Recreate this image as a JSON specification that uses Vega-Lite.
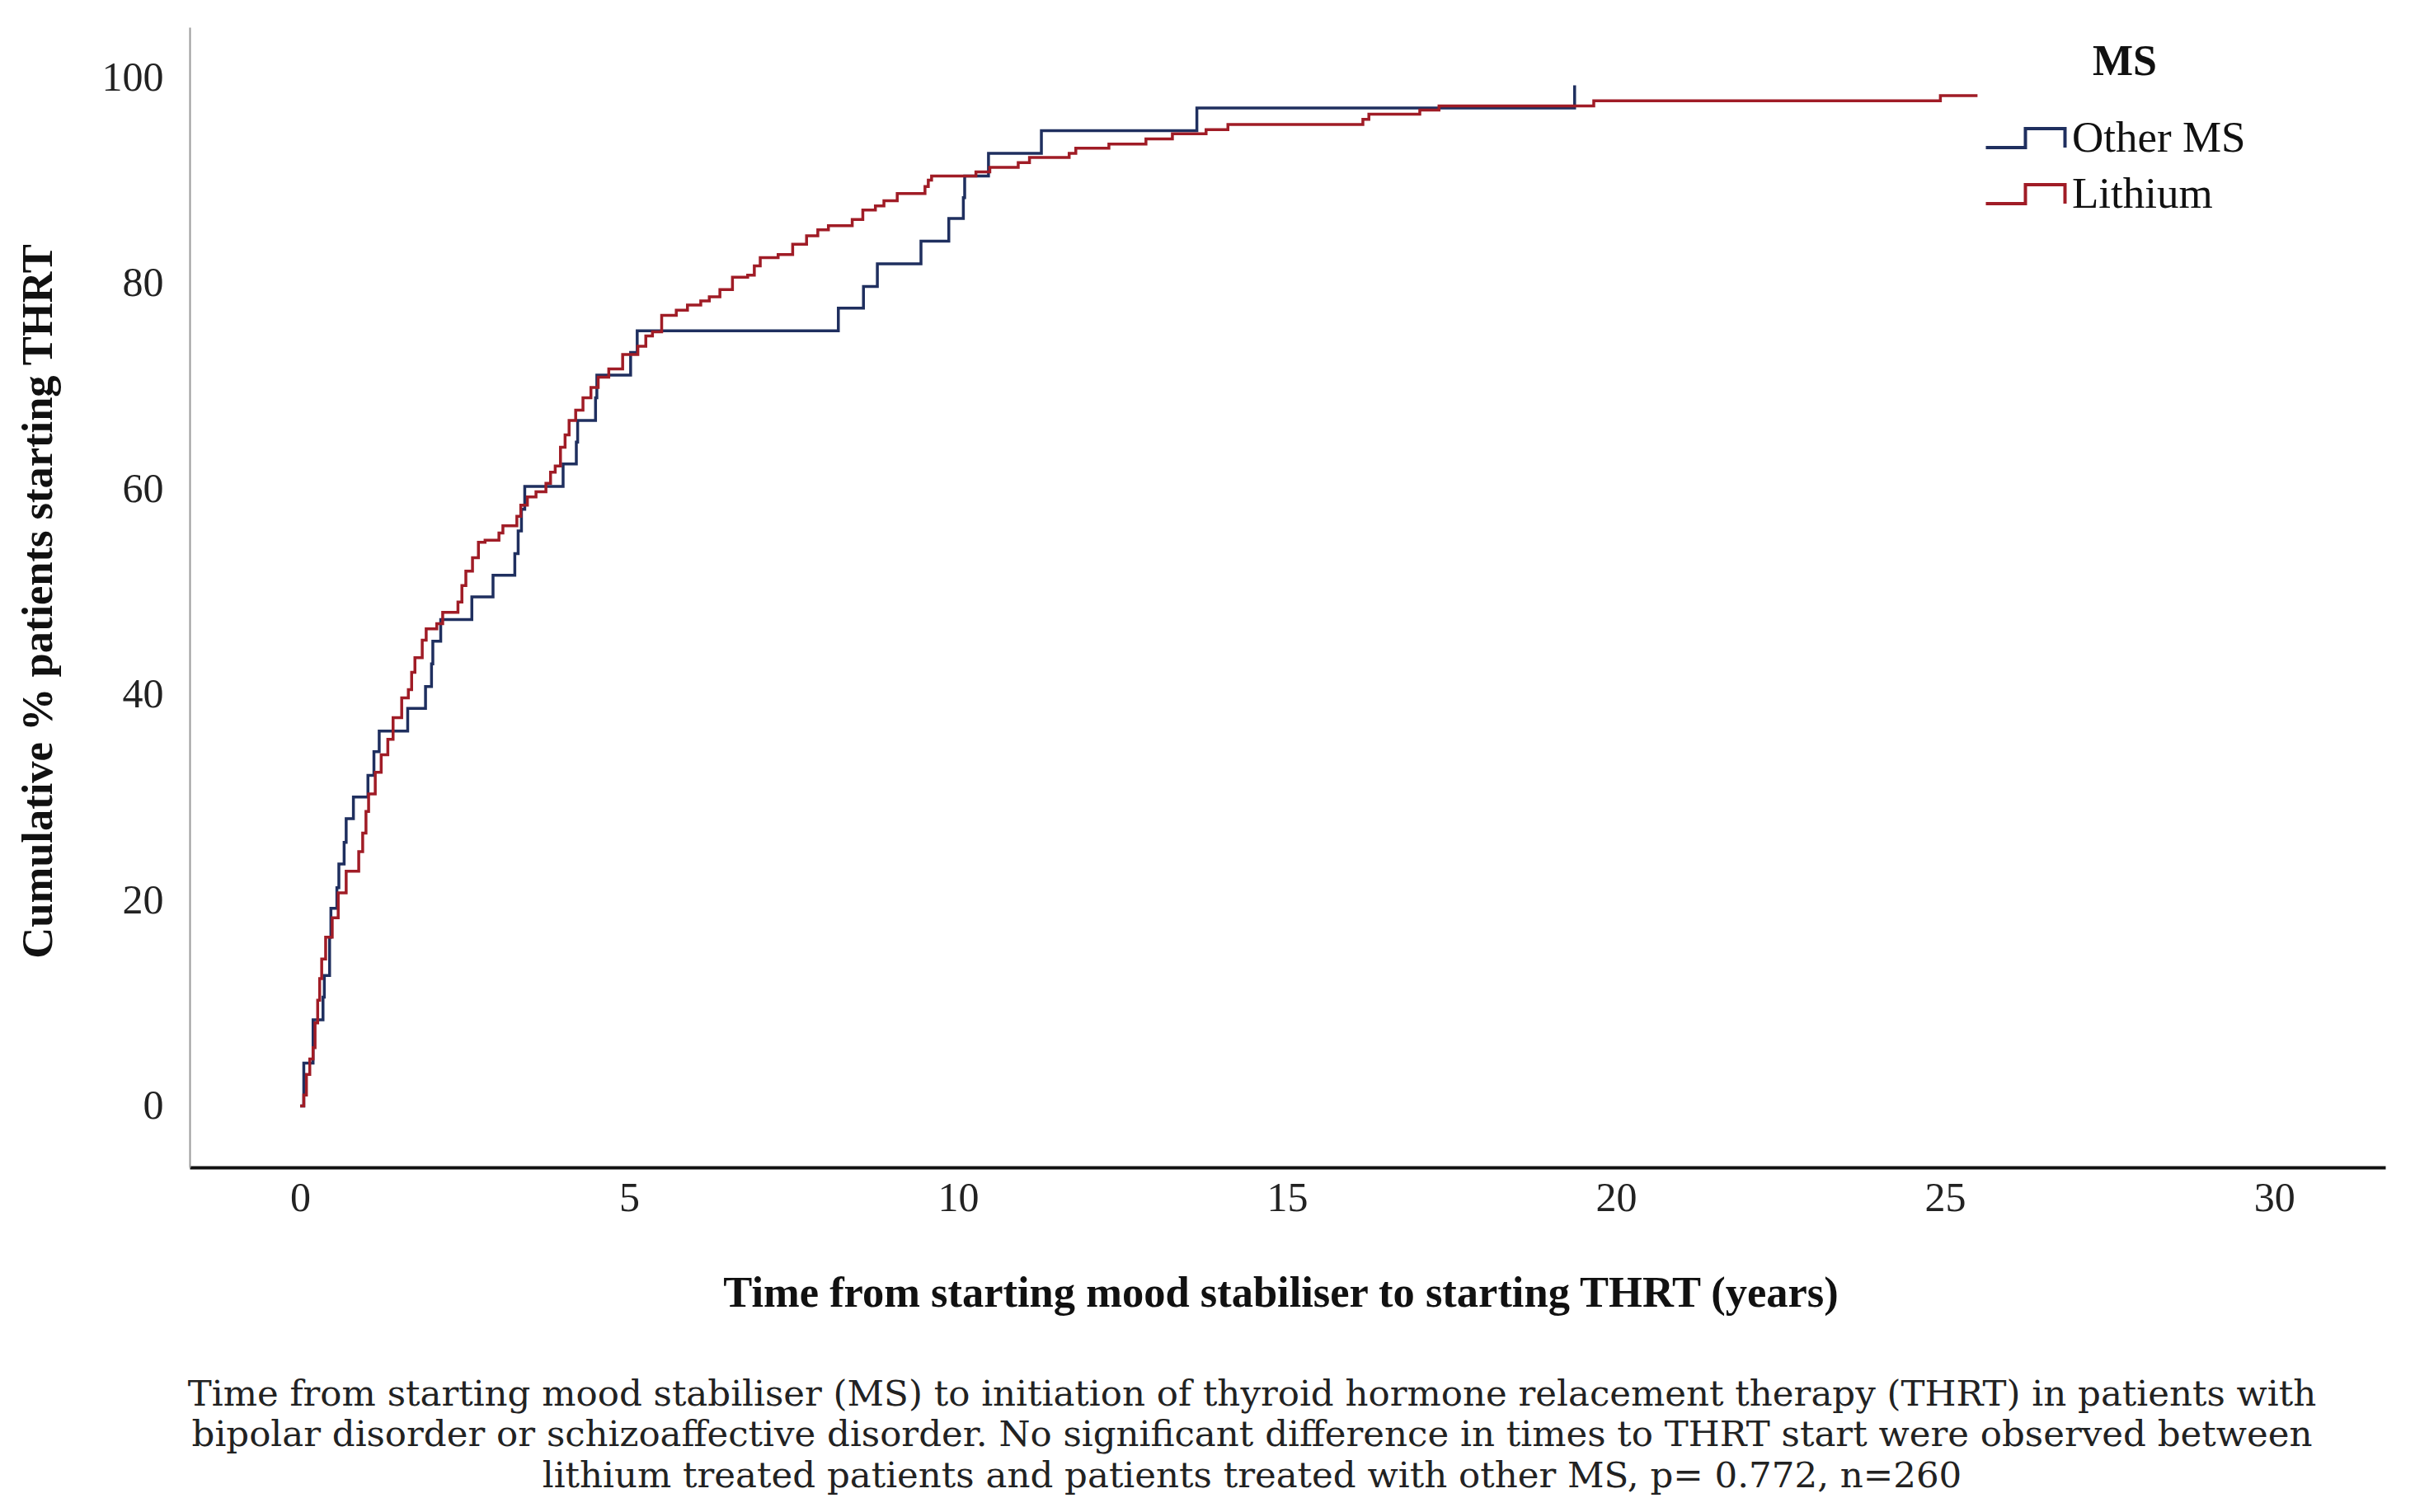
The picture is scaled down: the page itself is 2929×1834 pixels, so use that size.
{
  "$schema": "https://vega.github.io/schema/vega-lite/v6.json",
  "width": 2663,
  "height": 1383,
  "autosize": {"type": "none"},
  "padding": {"left": 230, "top": 33, "right": 36, "bottom": 418},
  "background": "white",
  "config": {"view": {"stroke": null}, "font": "Liberation Serif"},
  "title": {
    "text": [
      "Time from starting mood stabiliser (MS) to initiation of thyroid hormone relacement therapy (THRT) in patients with",
      "bipolar disorder or schizoaffective disorder. No significant difference in times to THRT start were observed between",
      "lithium treated patients and patients treated with other MS, p= 0.772, n=260"
    ],
    "orient": "bottom",
    "anchor": "middle",
    "frame": "group",
    "font": "DejaVu Serif",
    "fontSize": 43.5,
    "fontWeight": "normal",
    "lineHeight": 49.5,
    "offset": 76,
    "dx": -43,
    "color": "#222222"
  },
  "data": {
    "values": [
      {"group": "Other MS", "t": 0, "pct": 0},
      {"group": "Other MS", "t": 0.055, "pct": 4.17},
      {"group": "Other MS", "t": 0.196, "pct": 8.38},
      {"group": "Other MS", "t": 0.347, "pct": 10.59},
      {"group": "Other MS", "t": 0.367, "pct": 12.69},
      {"group": "Other MS", "t": 0.447, "pct": 16.41},
      {"group": "Other MS", "t": 0.467, "pct": 19.22},
      {"group": "Other MS", "t": 0.558, "pct": 21.22},
      {"group": "Other MS", "t": 0.588, "pct": 23.53},
      {"group": "Other MS", "t": 0.668, "pct": 25.64},
      {"group": "Other MS", "t": 0.699, "pct": 27.95},
      {"group": "Other MS", "t": 0.809, "pct": 30.05},
      {"group": "Other MS", "t": 1.03, "pct": 32.16},
      {"group": "Other MS", "t": 1.121, "pct": 34.47},
      {"group": "Other MS", "t": 1.201, "pct": 36.47},
      {"group": "Other MS", "t": 1.634, "pct": 38.68},
      {"group": "Other MS", "t": 1.905, "pct": 40.79},
      {"group": "Other MS", "t": 1.996, "pct": 43.0},
      {"group": "Other MS", "t": 2.016, "pct": 45.2},
      {"group": "Other MS", "t": 2.136, "pct": 47.31},
      {"group": "Other MS", "t": 2.609, "pct": 49.52},
      {"group": "Other MS", "t": 2.931, "pct": 51.63},
      {"group": "Other MS", "t": 3.262, "pct": 53.73},
      {"group": "Other MS", "t": 3.313, "pct": 55.94},
      {"group": "Other MS", "t": 3.363, "pct": 58.05},
      {"group": "Other MS", "t": 3.413, "pct": 60.26},
      {"group": "Other MS", "t": 3.996, "pct": 62.46},
      {"group": "Other MS", "t": 4.197, "pct": 64.57},
      {"group": "Other MS", "t": 4.217, "pct": 66.68},
      {"group": "Other MS", "t": 4.489, "pct": 68.88},
      {"group": "Other MS", "t": 4.509, "pct": 71.09},
      {"group": "Other MS", "t": 5.022, "pct": 73.3},
      {"group": "Other MS", "t": 5.122, "pct": 75.41},
      {"group": "Other MS", "t": 8.179, "pct": 77.61},
      {"group": "Other MS", "t": 8.561, "pct": 79.72},
      {"group": "Other MS", "t": 8.772, "pct": 81.93},
      {"group": "Other MS", "t": 9.435, "pct": 84.13},
      {"group": "Other MS", "t": 9.858, "pct": 86.34},
      {"group": "Other MS", "t": 10.079, "pct": 88.35},
      {"group": "Other MS", "t": 10.099, "pct": 90.46},
      {"group": "Other MS", "t": 10.461, "pct": 92.66},
      {"group": "Other MS", "t": 11.265, "pct": 94.87},
      {"group": "Other MS", "t": 13.628, "pct": 97.08},
      {"group": "Other MS", "t": 19.369, "pct": 99.29},
      {"group": "Lithium", "t": 0, "pct": 0},
      {"group": "Lithium", "t": 0.055, "pct": 1.06},
      {"group": "Lithium", "t": 0.095, "pct": 3.06},
      {"group": "Lithium", "t": 0.146, "pct": 4.57},
      {"group": "Lithium", "t": 0.196, "pct": 5.67},
      {"group": "Lithium", "t": 0.226, "pct": 8.08},
      {"group": "Lithium", "t": 0.266, "pct": 10.29},
      {"group": "Lithium", "t": 0.296, "pct": 12.39},
      {"group": "Lithium", "t": 0.327, "pct": 14.3},
      {"group": "Lithium", "t": 0.387, "pct": 16.41},
      {"group": "Lithium", "t": 0.487, "pct": 18.31},
      {"group": "Lithium", "t": 0.578, "pct": 20.72},
      {"group": "Lithium", "t": 0.699, "pct": 22.83},
      {"group": "Lithium", "t": 0.89, "pct": 24.74},
      {"group": "Lithium", "t": 0.95, "pct": 26.54},
      {"group": "Lithium", "t": 1.0, "pct": 28.65},
      {"group": "Lithium", "t": 1.04, "pct": 30.35},
      {"group": "Lithium", "t": 1.141, "pct": 32.46},
      {"group": "Lithium", "t": 1.231, "pct": 34.17},
      {"group": "Lithium", "t": 1.332, "pct": 35.67},
      {"group": "Lithium", "t": 1.412, "pct": 37.78},
      {"group": "Lithium", "t": 1.543, "pct": 39.69},
      {"group": "Lithium", "t": 1.644, "pct": 40.49},
      {"group": "Lithium", "t": 1.694, "pct": 42.19},
      {"group": "Lithium", "t": 1.744, "pct": 43.6},
      {"group": "Lithium", "t": 1.855, "pct": 45.3},
      {"group": "Lithium", "t": 1.915, "pct": 46.41},
      {"group": "Lithium", "t": 2.076, "pct": 46.91},
      {"group": "Lithium", "t": 2.166, "pct": 48.01},
      {"group": "Lithium", "t": 2.398, "pct": 49.02},
      {"group": "Lithium", "t": 2.458, "pct": 50.62},
      {"group": "Lithium", "t": 2.518, "pct": 52.03},
      {"group": "Lithium", "t": 2.619, "pct": 53.33},
      {"group": "Lithium", "t": 2.709, "pct": 54.84},
      {"group": "Lithium", "t": 2.81, "pct": 55.04},
      {"group": "Lithium", "t": 3.021, "pct": 55.74},
      {"group": "Lithium", "t": 3.081, "pct": 56.44},
      {"group": "Lithium", "t": 3.293, "pct": 57.35},
      {"group": "Lithium", "t": 3.353, "pct": 58.45},
      {"group": "Lithium", "t": 3.453, "pct": 59.25},
      {"group": "Lithium", "t": 3.584, "pct": 59.75},
      {"group": "Lithium", "t": 3.735, "pct": 60.56},
      {"group": "Lithium", "t": 3.805, "pct": 61.66},
      {"group": "Lithium", "t": 3.876, "pct": 62.26},
      {"group": "Lithium", "t": 3.956, "pct": 64.07},
      {"group": "Lithium", "t": 4.026, "pct": 65.27},
      {"group": "Lithium", "t": 4.087, "pct": 66.68},
      {"group": "Lithium", "t": 4.187, "pct": 67.68},
      {"group": "Lithium", "t": 4.298, "pct": 68.88},
      {"group": "Lithium", "t": 4.419, "pct": 69.89},
      {"group": "Lithium", "t": 4.529, "pct": 70.89},
      {"group": "Lithium", "t": 4.69, "pct": 71.69},
      {"group": "Lithium", "t": 4.901, "pct": 73.1},
      {"group": "Lithium", "t": 5.132, "pct": 73.9},
      {"group": "Lithium", "t": 5.253, "pct": 74.9},
      {"group": "Lithium", "t": 5.354, "pct": 75.31},
      {"group": "Lithium", "t": 5.494, "pct": 76.91},
      {"group": "Lithium", "t": 5.716, "pct": 77.41},
      {"group": "Lithium", "t": 5.886, "pct": 77.92},
      {"group": "Lithium", "t": 6.088, "pct": 78.32},
      {"group": "Lithium", "t": 6.218, "pct": 78.72},
      {"group": "Lithium", "t": 6.379, "pct": 79.42},
      {"group": "Lithium", "t": 6.57, "pct": 80.62},
      {"group": "Lithium", "t": 6.801, "pct": 80.82},
      {"group": "Lithium", "t": 6.902, "pct": 81.73},
      {"group": "Lithium", "t": 6.992, "pct": 82.53},
      {"group": "Lithium", "t": 7.264, "pct": 82.83},
      {"group": "Lithium", "t": 7.485, "pct": 83.83},
      {"group": "Lithium", "t": 7.696, "pct": 84.64},
      {"group": "Lithium", "t": 7.867, "pct": 85.24},
      {"group": "Lithium", "t": 8.028, "pct": 85.64},
      {"group": "Lithium", "t": 8.39, "pct": 86.24},
      {"group": "Lithium", "t": 8.551, "pct": 87.15},
      {"group": "Lithium", "t": 8.742, "pct": 87.55},
      {"group": "Lithium", "t": 8.872, "pct": 88.05},
      {"group": "Lithium", "t": 9.074, "pct": 88.75},
      {"group": "Lithium", "t": 9.496, "pct": 89.45},
      {"group": "Lithium", "t": 9.546, "pct": 90.06},
      {"group": "Lithium", "t": 9.596, "pct": 90.46},
      {"group": "Lithium", "t": 10.27, "pct": 90.86},
      {"group": "Lithium", "t": 10.481, "pct": 91.31},
      {"group": "Lithium", "t": 10.913, "pct": 91.76},
      {"group": "Lithium", "t": 11.084, "pct": 92.26},
      {"group": "Lithium", "t": 11.687, "pct": 92.66},
      {"group": "Lithium", "t": 11.788, "pct": 93.17},
      {"group": "Lithium", "t": 12.291, "pct": 93.57},
      {"group": "Lithium", "t": 12.854, "pct": 94.07},
      {"group": "Lithium", "t": 13.256, "pct": 94.57},
      {"group": "Lithium", "t": 13.768, "pct": 94.97},
      {"group": "Lithium", "t": 14.1, "pct": 95.47},
      {"group": "Lithium", "t": 16.151, "pct": 95.98},
      {"group": "Lithium", "t": 16.242, "pct": 96.48},
      {"group": "Lithium", "t": 17.016, "pct": 96.88},
      {"group": "Lithium", "t": 17.308, "pct": 97.28},
      {"group": "Lithium", "t": 19.66, "pct": 97.78},
      {"group": "Lithium", "t": 24.928, "pct": 98.28},
      {"group": "Lithium", "t": 25.492, "pct": 98.28}
    ]
  },
  "mark": {"type": "line", "interpolate": "step-after", "strokeWidth": 3.5},
  "encoding": {
    "x": {
      "field": "t",
      "type": "quantitative",
      "scale": {"domain": [-1.68, 31.69], "nice": false, "zero": false},
      "axis": {
        "values": [0, 5, 10, 15, 20, 25, 30],
        "ticks": false,
        "grid": false,
        "domainColor": "#111111",
        "domainWidth": 4,
        "labelFont": "Liberation Serif",
        "labelFontSize": 50,
        "labelColor": "#222222",
        "labelPadding": 12,
        "title": "Time from starting mood stabiliser to starting THRT (years)",
        "titleFont": "Liberation Serif",
        "titleFontSize": 52.5,
        "titleFontWeight": "bold",
        "titleColor": "#111111",
        "titleX": 1323,
        "titleY": 152,
        "titleAlign": "center",
        "titleBaseline": "middle"
      }
    },
    "y": {
      "field": "pct",
      "type": "quantitative",
      "scale": {"domain": [-5.98, 104.94], "nice": false, "zero": false},
      "axis": {
        "values": [0, 20, 40, 60, 80, 100],
        "ticks": false,
        "grid": false,
        "domainColor": "#999999",
        "domainWidth": 2,
        "labelFont": "Liberation Serif",
        "labelFontSize": 50,
        "labelColor": "#222222",
        "labelPadding": 32,
        "title": "Cumulative % patients starting THRT",
        "titleFont": "Liberation Serif",
        "titleFontSize": 52.5,
        "titleFontWeight": "bold",
        "titleColor": "#111111",
        "titleAngle": -90,
        "titleX": -184,
        "titleY": 696,
        "titleAlign": "center",
        "titleBaseline": "middle"
      }
    },
    "color": {
      "field": "group",
      "type": "nominal",
      "scale": {"domain": ["Other MS", "Lithium"], "range": ["#1f2f5f", "#a01c26"]},
      "legend": {
        "title": "MS",
        "orient": "none",
        "legendX": 2200,
        "legendY": 17,
        "titleFont": "Liberation Serif",
        "titleFontSize": 52,
        "titleFontWeight": "bold",
        "titleColor": "#111111",
        "titleAnchor": "middle",
        "titlePadding": 39,
        "labelFont": "Liberation Serif",
        "labelFontSize": 53,
        "labelColor": "#111111",
        "labelOffset": 30,
        "labelLimit": 0,
        "symbolType": "M-2,0.48H0V-0.48H2V0.48",
        "symbolSize": 2304,
        "symbolStrokeWidth": 4,
        "symbolFillColor": "transparent",
        "rowPadding": 14
      }
    }
  }
}
